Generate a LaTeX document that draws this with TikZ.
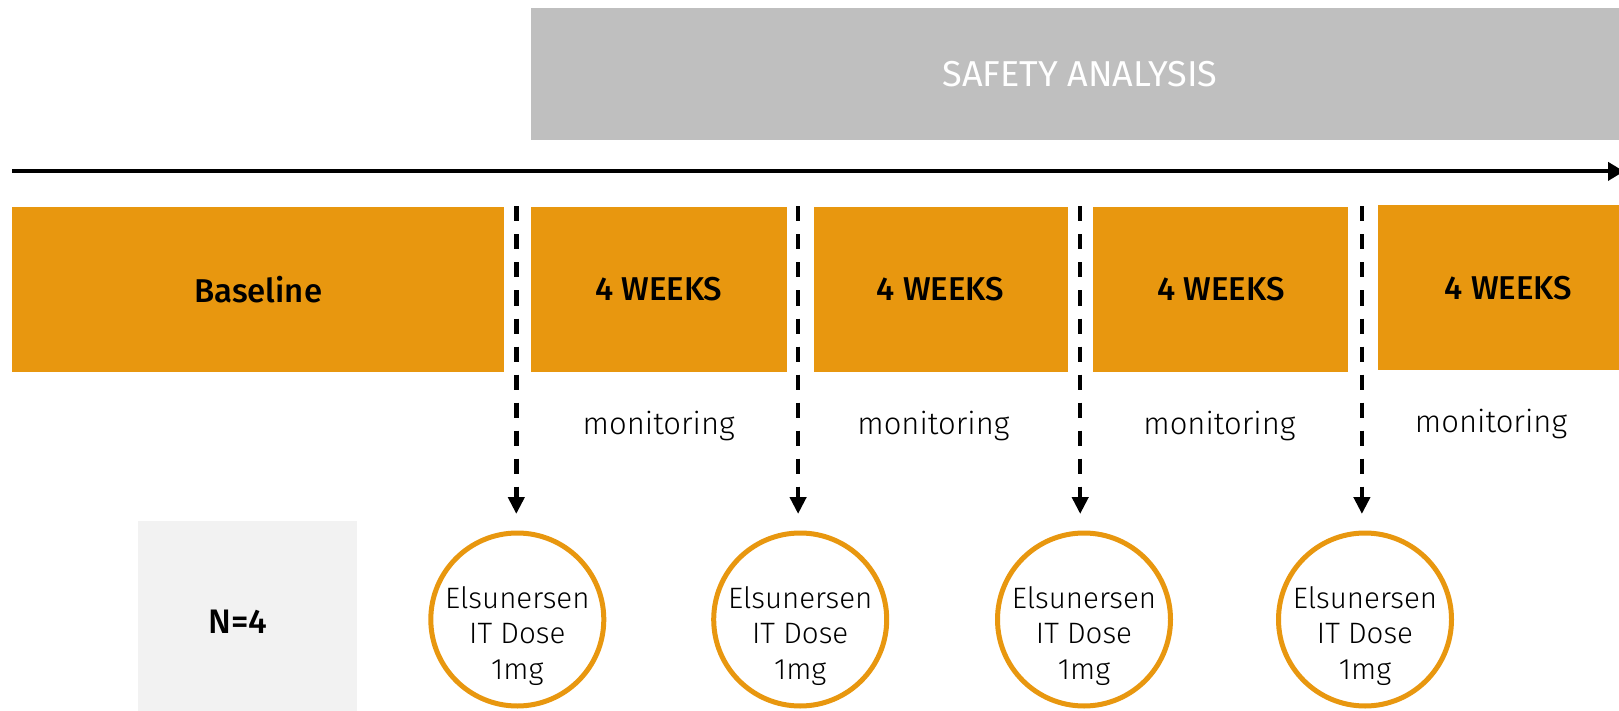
\documentclass[tikz,border=0pt]{standalone}
\usepackage{fontspec}
\setmainfont{Fira Sans}
\newfontfamily\lightfont{Fira Sans Light}
\newfontfamily\midfont{Fira Sans Medium}
\usetikzlibrary{arrows.meta}
\definecolor{amber}{HTML}{E8970F}
\definecolor{safetygrey}{HTML}{BFBFBF}
\definecolor{cohortgrey}{HTML}{F2F2F2}
\begin{document}
\begin{tikzpicture}[x=1pt,y=-1pt,
  phase/.style={rectangle, fill=amber, inner sep=0pt, minimum height=165pt,
    font=\midfont\fontsize{33}{38}\selectfont},
  dose/.style={circle, draw=amber, line width=5pt, fill=white, minimum size=173pt,
    inner sep=0pt},
  dosetext/.style={align=center, inner sep=0pt, font=\lightfont\fontsize{29.5}{35.6}\selectfont},
  note/.style={font=\lightfont\fontsize{31}{36}\selectfont},
  dasharrow/.style={line width=4.5pt, dash pattern=on 15pt off 13pt,
    -{Triangle[length=17pt,width=16pt]}},
  timeline/.style={line width=4pt, -{Triangle[length=16pt,width=18pt]}}]
\useasboundingbox (0,0) rectangle (1619,711);

% safety analysis band
\node[rectangle, fill=safetygrey, minimum width=1098pt, minimum height=132pt, inner sep=0pt]
  (safety) at (1080,74.3) {};
\node[font=\fontsize{36}{42}\selectfont, text=white] (safetylabel) at (1080,74.3) {SAFETY ANALYSIS};

% time axis
\coordinate (t0) at (12.4,171.4);
\coordinate (t1) at (1624,171.4);
\draw[timeline] (t0) -- (t1);

% study phases
\node[phase, minimum width=491.5pt] (base) at (258.1,289.1) {Baseline};
\node[phase, minimum width=256.1pt] (w1) at (658.7,289.1) {4 WEEKS};
\node[phase, minimum width=254pt] (w2) at (940.6,289.1) {4 WEEKS};
\node[phase, minimum width=255pt] (w3) at (1220.9,289.1) {4 WEEKS};
\node[phase, minimum width=260pt] (w4) at (1508.4,287.6) {4 WEEKS};

% monitoring labels
\node[note] (m1) at (658.7,426.5) {monitoring};
\node[note] (m2) at (933.4,426.5) {monitoring};
\node[note] (m3) at (1219.4,426.5) {monitoring};
\node[note] (m4) at (1491,424.4) {monitoring};

% cohort size
\node[rectangle, fill=cohortgrey, minimum width=218.8pt, minimum height=200pt, inner sep=0pt]
  (cohort) at (247.8,621.4) {};
\node[font=\midfont\fontsize{34}{40}\selectfont] (cohortlabel) at (238,621.6) {N=4};

% dosing events
\foreach \i/\x in {1/517.3, 2/800.2, 3/1084, 4/1365} {
  \node[dose] (d\i) at (\x,619.5) {};
  \node[dosetext] (dt\i) at (\x,636) {Elsunersen\\IT Dose\\1mg};
}

% dosing markers
\coordinate (a1) at (516.3,206.5);
\coordinate (a2) at (798.1,206.5);
\coordinate (a3) at (1080.2,206.5);
\coordinate (a4) at (1361.9,206.5);
\coordinate (b1) at (516.3,514);
\coordinate (b2) at (798.1,514);
\coordinate (b3) at (1080.2,514);
\coordinate (b4) at (1361.9,514);
\foreach \i in {1,...,4} \draw[dasharrow] (a\i) -- (b\i);
\end{tikzpicture}
\end{document}
